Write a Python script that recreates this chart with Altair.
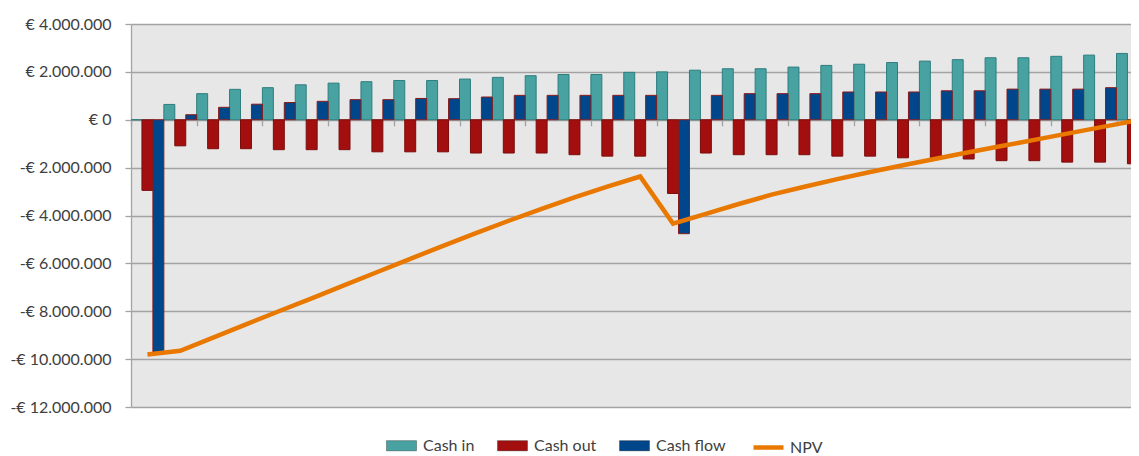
import altair as alt
import pandas as pd

years = list(range(31))
series_names = ["Cash in", "Cash out", "Cash flow"]

cash_in = [0.00, 0.64, 1.09, 1.27, 1.34, 1.46, 1.53, 1.59, 1.64, 1.64, 1.70,
           1.77, 1.84, 1.89, 1.89, 1.98, 2.00, 2.07, 2.13, 2.13, 2.20,
           2.27, 2.32, 2.39, 2.45, 2.51, 2.59, 2.59, 2.65, 2.70, 2.77]
cash_out = [-2.95, -1.09, -1.21, -1.21, -1.25, -1.25, -1.25, -1.34, -1.34, -1.34, -1.39,
            -1.39, -1.39, -1.46, -1.52, -1.52, -3.08, -1.39, -1.46, -1.46, -1.46,
            -1.52, -1.52, -1.59, -1.59, -1.64, -1.71, -1.71, -1.77, -1.77, -1.84]
cash_flow = [-9.70, 0.21, 0.52, 0.65, 0.72, 0.77, 0.84, 0.84, 0.89, 0.88, 0.95,
             1.02, 1.02, 1.02, 1.02, 1.02, -4.76, 1.02, 1.09, 1.09, 1.09,
             1.16, 1.16, 1.16, 1.21, 1.21, 1.28, 1.28, 1.28, 1.34, 1.34]
npv = [-9.81, -9.65, -9.10, -8.55, -8.00, -7.46, -6.91, -6.36, -5.81, -5.27, -4.74,
       -4.22, -3.72, -3.24, -2.79, -2.37, -4.34, -3.93, -3.52, -3.13, -2.80,
       -2.48, -2.18, -1.90, -1.63, -1.36, -1.10, -0.84, -0.58, -0.32, -0.06]

y_ticks = [-12000000, -10000000, -8000000, -6000000, -4000000, -2000000, 0, 2000000, 4000000]

fill_colors = ["#48a2a2", "#a30f0f", "#00468a"]
stroke_colors = ["#2f7d7d", "#7a0c0c", "#8b1a1a"]
npv_color = "#e87800"
FONT = "Lato"

rows = []
for i, name in enumerate(series_names):
    vals = [cash_in, cash_out, cash_flow][i]
    for y, v in zip(years, vals):
        rows.append({"year": y, "series": name, "idx": i, "value": v * 1e6,
                     "edge": stroke_colors[i]})
bars_df = pd.DataFrame(rows)
npv_df = pd.DataFrame({"year": years, "npv": [v * 1e6 for v in npv], "name": ["NPV"] * len(years)})

PLOT_W = 1000
PLOT_H = 383
X_MAX = PLOT_W / 32.85
y_dom = [-12000000, 4000000]
zero_offset = -PLOT_H * (0 - y_dom[0]) / (y_dom[1] - y_dom[0])

x_scale = alt.Scale(domain=[0, X_MAX], nice=False, zero=False)
y_scale = alt.Scale(domain=y_dom, nice=False)

label_expr = ("(datum.value < 0 ? '-' : '') + '€ ' + "
              "replace(format(abs(datum.value), ','), regexp(',', 'g'), '.')")

bars = alt.Chart(bars_df).transform_calculate(
    x0="datum.year + datum.idx / 3",
    x1="datum.year + (datum.idx + 1) / 3",
).mark_bar(clip=True, strokeWidth=1).encode(
    x=alt.X("x0:Q", scale=x_scale,
            axis=alt.Axis(values=years, labels=False, title=None, grid=False,
                          ticks=True, tickSize=6, tickColor="#a3a3a3", tickWidth=1.3,
                          domain=True, domainColor="#a3a3a3", domainWidth=1.3,
                          offset=zero_offset, zindex=0)),
    x2="x1:Q",
    y=alt.Y("value:Q", scale=y_scale,
            axis=alt.Axis(values=y_ticks, title=None, labelExpr=label_expr,
                          labelFont=FONT, labelFontSize=16, labelColor="#404040",
                          labelPadding=14, tickSize=6, tickColor="#a3a3a3", tickWidth=1.3,
                          domainColor="#a3a3a3", domainWidth=1.3,
                          grid=True, gridColor="#a3a3a3", gridWidth=1.3, zindex=0)),
    y2=alt.datum(0),
    fill=alt.Fill("series:N", scale=alt.Scale(domain=series_names, range=fill_colors),
                  legend=alt.Legend(orient="none", legendX=255, legendY=406,
                                    direction="horizontal", title=None, padding=0,
                                    labelFont=FONT, labelFontSize=16, labelColor="#404040",
                                    symbolType="M-1,-0.34H1V0.34H-1Z", symbolSize=900,
                                    symbolStrokeWidth=1, symbolStrokeColor="rgba(0,0,0,0.3)",
                                    labelOffset=6, columnPadding=20)),
    stroke=alt.Stroke("edge:N", scale=None, legend=None),
)

line = alt.Chart(npv_df).transform_calculate(
    xc="datum.year + 0.5"
).mark_line(clip=True, strokeWidth=4.5).encode(
    x=alt.X("xc:Q", scale=x_scale),
    y=alt.Y("npv:Q", scale=y_scale),
    stroke=alt.Stroke("name:N", scale=alt.Scale(domain=["NPV"], range=[npv_color]),
                      legend=alt.Legend(orient="none", legendX=620, legendY=406,
                                        direction="horizontal", title=None, padding=0,
                                        labelFont=FONT, labelFontSize=16, labelColor="#404040",
                                        symbolType="stroke", symbolSize=900,
                                        symbolStrokeWidth=4.5, labelOffset=4)),
)

chart = alt.layer(bars, line).resolve_scale(stroke="independent").properties(
    width=PLOT_W, height=PLOT_H,
    padding={"left": 123, "top": 16, "right": 0, "bottom": 48},
    autosize=alt.AutoSizeParams(type="none"),
    background="white",
).configure_view(fill="#e7e7e7", stroke=None)

chart.save("out.html", embed_options={"renderer": "svg", "actions": False})
